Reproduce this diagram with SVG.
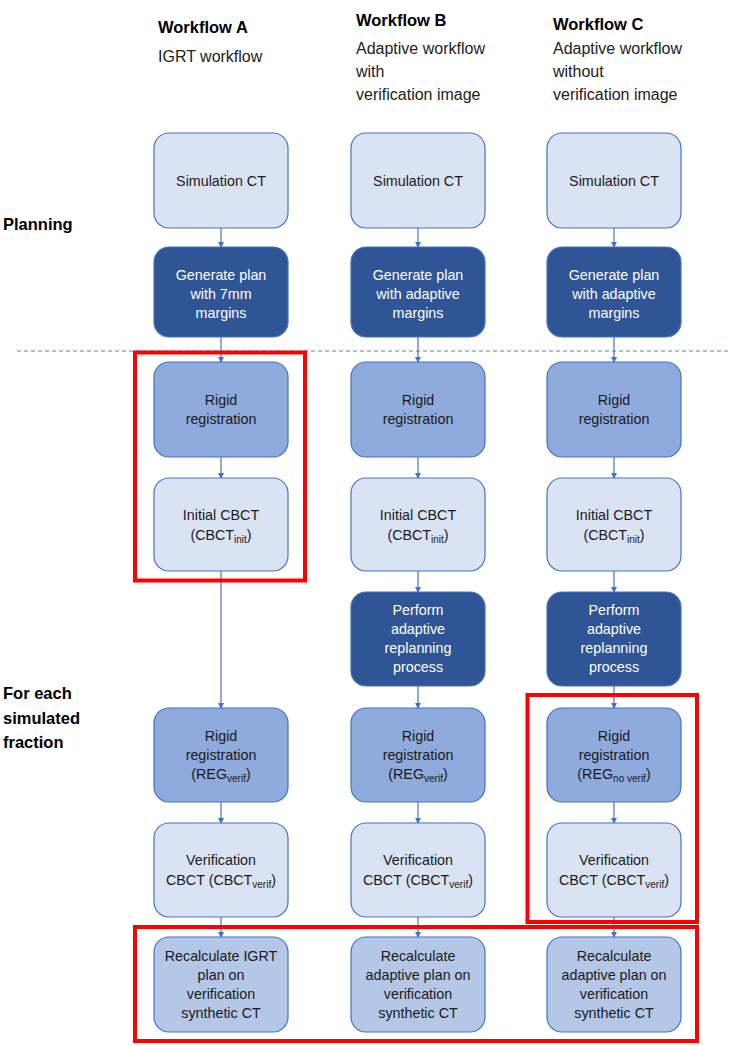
<svg xmlns="http://www.w3.org/2000/svg" width="729" height="1046" viewBox="0 0 729 1046">
<defs>
<marker id="ah" markerWidth="6" markerHeight="6" refX="5" refY="3" orient="auto" markerUnits="userSpaceOnUse">
<path d="M0,0 L6,3 L0,6 Z" fill="#4472c4"/>
</marker>
<style>
.n rect{stroke:#4472c4;stroke-width:1.2}
.light rect{fill:#dae3f3}
.mid rect{fill:#8faadc}
.dark rect{fill:#2f5597}
.rec rect{fill:#b4c7e7}
.n text{font-family:"Liberation Sans",Arial,sans-serif;font-size:14.3px;text-anchor:middle;fill:#1a1a1a}
.dark text{fill:#ffffff}
.h{font-family:"Liberation Sans",Arial,sans-serif;font-size:16.5px;font-weight:bold;fill:#000}
.s{font-family:"Liberation Sans",Arial,sans-serif;font-size:16px;fill:#222}
.lbl{font-family:"Liberation Sans",Arial,sans-serif;font-size:16.5px;font-weight:bold;fill:#000}
.c line{stroke:#4472c4;stroke-width:1.2;marker-end:url(#ah)}
.red{fill:none;stroke:#ff0000;stroke-width:4}
.sub{font-size:10px}
</style>
</defs>
<rect width="729" height="1046" fill="#ffffff"/>

<g id="headers">
<text class="h" x="158" y="33">Workflow A</text>
<text class="s" x="158" y="62">IGRT workflow</text>
<text class="h" x="356" y="26">Workflow B</text>
<text class="s" x="356" y="54">Adaptive workflow</text>
<text class="s" x="356" y="77">with</text>
<text class="s" x="356" y="100">verification image</text>
<text class="h" x="553" y="30">Workflow C</text>
<text class="s" x="553" y="54">Adaptive workflow</text>
<text class="s" x="553" y="77">without</text>
<text class="s" x="553" y="100">verification image</text>
</g>

<g id="side-labels">
<text class="lbl" x="3" y="230">Planning</text>
<text class="lbl" x="3" y="699">For each</text>
<text class="lbl" x="3" y="724">simulated</text>
<text class="lbl" x="3" y="748">fraction</text>
</g>

<line id="divider" x1="17" y1="351" x2="729" y2="351" stroke="#8faadc" stroke-width="1.3" stroke-dasharray="4,3"/>

<g id="connectors" class="c">
<line x1="221" y1="228" x2="221" y2="247"/>
<line x1="418" y1="228" x2="418" y2="247"/>
<line x1="614" y1="228" x2="614" y2="247"/>
<line x1="221" y1="337" x2="221" y2="362"/>
<line x1="418" y1="337" x2="418" y2="362"/>
<line x1="614" y1="337" x2="614" y2="362"/>
<line x1="221" y1="457" x2="221" y2="478"/>
<line x1="418" y1="457" x2="418" y2="478"/>
<line x1="614" y1="457" x2="614" y2="478"/>
<line x1="221" y1="571" x2="221" y2="708"/>
<line x1="418" y1="571" x2="418" y2="592"/>
<line x1="614" y1="571" x2="614" y2="592"/>
<line x1="418" y1="686" x2="418" y2="708"/>
<line x1="614" y1="686" x2="614" y2="708"/>
<line x1="221" y1="802" x2="221" y2="823"/>
<line x1="418" y1="802" x2="418" y2="823"/>
<line x1="614" y1="802" x2="614" y2="823"/>
<line x1="221" y1="917" x2="221" y2="937"/>
<line x1="418" y1="917" x2="418" y2="937"/>
<line x1="614" y1="917" x2="614" y2="937"/>
</g>

<g id="a-sim" class="n light"><rect x="154" y="133" width="134" height="95" rx="15"/><text x="221" y="186">Simulation CT</text></g>
<g id="b-sim" class="n light"><rect x="351" y="133" width="134" height="95" rx="15"/><text x="418" y="186">Simulation CT</text></g>
<g id="c-sim" class="n light"><rect x="547" y="133" width="134" height="95" rx="15"/><text x="614" y="186">Simulation CT</text></g>

<g id="a-gen" class="n dark"><rect x="154" y="247" width="134" height="90" rx="15"/><text x="221" y="280">Generate plan</text><text x="221" y="299">with 7mm</text><text x="221" y="318">margins</text></g>
<g id="b-gen" class="n dark"><rect x="351" y="247" width="134" height="90" rx="15"/><text x="418" y="280">Generate plan</text><text x="418" y="299">with adaptive</text><text x="418" y="318">margins</text></g>
<g id="c-gen" class="n dark"><rect x="547" y="247" width="134" height="90" rx="15"/><text x="614" y="280">Generate plan</text><text x="614" y="299">with adaptive</text><text x="614" y="318">margins</text></g>

<g id="a-rigid" class="n mid"><rect x="154" y="362" width="134" height="95" rx="15"/><text x="221" y="405">Rigid</text><text x="221" y="424">registration</text></g>
<g id="b-rigid" class="n mid"><rect x="351" y="362" width="134" height="95" rx="15"/><text x="418" y="405">Rigid</text><text x="418" y="424">registration</text></g>
<g id="c-rigid" class="n mid"><rect x="547" y="362" width="134" height="95" rx="15"/><text x="614" y="405">Rigid</text><text x="614" y="424">registration</text></g>

<g id="a-init" class="n light"><rect x="154" y="478" width="134" height="93" rx="15"/><text x="221" y="520">Initial CBCT</text><text x="221" y="540">(CBCT<tspan class="sub" dy="3">init</tspan><tspan dy="-3">)</tspan></text></g>
<g id="b-init" class="n light"><rect x="351" y="478" width="134" height="93" rx="15"/><text x="418" y="520">Initial CBCT</text><text x="418" y="540">(CBCT<tspan class="sub" dy="3">init</tspan><tspan dy="-3">)</tspan></text></g>
<g id="c-init" class="n light"><rect x="547" y="478" width="134" height="93" rx="15"/><text x="614" y="520">Initial CBCT</text><text x="614" y="540">(CBCT<tspan class="sub" dy="3">init</tspan><tspan dy="-3">)</tspan></text></g>

<g id="b-perform" class="n dark"><rect x="351" y="592" width="134" height="94" rx="15"/><text x="418" y="615">Perform</text><text x="418" y="634">adaptive</text><text x="418" y="653">replanning</text><text x="418" y="672">process</text></g>
<g id="c-perform" class="n dark"><rect x="547" y="592" width="134" height="94" rx="15"/><text x="614" y="615">Perform</text><text x="614" y="634">adaptive</text><text x="614" y="653">replanning</text><text x="614" y="672">process</text></g>

<g id="a-reg" class="n mid"><rect x="154" y="708" width="134" height="94" rx="15"/><text x="221" y="741">Rigid</text><text x="221" y="760">registration</text><text x="221" y="779">(REG<tspan class="sub" dy="3">verif</tspan><tspan dy="-3">)</tspan></text></g>
<g id="b-reg" class="n mid"><rect x="351" y="708" width="134" height="94" rx="15"/><text x="418" y="741">Rigid</text><text x="418" y="760">registration</text><text x="418" y="779">(REG<tspan class="sub" dy="3">verif</tspan><tspan dy="-3">)</tspan></text></g>
<g id="c-reg" class="n mid"><rect x="547" y="708" width="134" height="94" rx="15"/><text x="614" y="741">Rigid</text><text x="614" y="760">registration</text><text x="614" y="779">(REG<tspan class="sub" dy="3">no verif</tspan><tspan dy="-3">)</tspan></text></g>

<g id="a-verif" class="n light"><rect x="154" y="823" width="134" height="94" rx="15"/><text x="221" y="865">Verification</text><text x="221" y="885">CBCT (CBCT<tspan class="sub" dy="3">verif</tspan><tspan dy="-3">)</tspan></text></g>
<g id="b-verif" class="n light"><rect x="351" y="823" width="134" height="94" rx="15"/><text x="418" y="865">Verification</text><text x="418" y="885">CBCT (CBCT<tspan class="sub" dy="3">verif</tspan><tspan dy="-3">)</tspan></text></g>
<g id="c-verif" class="n light"><rect x="547" y="823" width="134" height="94" rx="15"/><text x="614" y="865">Verification</text><text x="614" y="885">CBCT (CBCT<tspan class="sub" dy="3">verif</tspan><tspan dy="-3">)</tspan></text></g>

<g id="a-recalc" class="n rec"><rect x="154" y="937" width="134" height="95" rx="15"/><text x="221" y="961">Recalculate IGRT</text><text x="221" y="980">plan on</text><text x="221" y="999">verification</text><text x="221" y="1018">synthetic CT</text></g>
<g id="b-recalc" class="n rec"><rect x="351" y="937" width="134" height="95" rx="15"/><text x="418" y="961">Recalculate</text><text x="418" y="980">adaptive plan on</text><text x="418" y="999">verification</text><text x="418" y="1018">synthetic CT</text></g>
<g id="c-recalc" class="n rec"><rect x="547" y="937" width="134" height="95" rx="15"/><text x="614" y="961">Recalculate</text><text x="614" y="980">adaptive plan on</text><text x="614" y="999">verification</text><text x="614" y="1018">synthetic CT</text></g>

<g id="highlights">
<rect class="red" x="135" y="352.5" width="170" height="228"/>
<rect class="red" x="527.5" y="695" width="169.5" height="227"/>
<rect class="red" x="135" y="927" width="562" height="114"/>
</g>
</svg>
